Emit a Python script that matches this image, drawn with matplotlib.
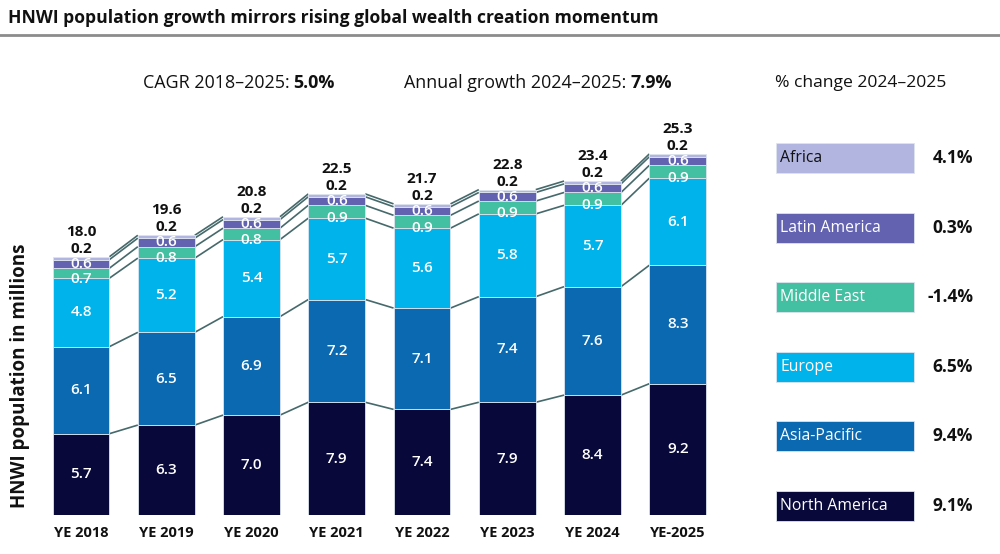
import matplotlib
matplotlib.use('Agg')
import matplotlib.pyplot as plt
from matplotlib.patches import Rectangle

plt.rcParams['font.family'] = ['Open Sans', 'DejaVu Sans']

# ---- data ----
years = ['YE 2018', 'YE 2019', 'YE 2020', 'YE 2021', 'YE 2022', 'YE 2023', 'YE 2024', 'YE-2025']
regions = ['North America', 'Asia-Pacific', 'Europe', 'Middle East', 'Latin America', 'Africa']
north_america = [5.7, 6.3, 7.0, 7.9, 7.4, 7.9, 8.4, 9.2]
asia_pacific = [6.1, 6.5, 6.9, 7.2, 7.1, 7.4, 7.6, 8.3]
europe = [4.8, 5.2, 5.4, 5.7, 5.6, 5.8, 5.7, 6.1]
middle_east = [0.7, 0.8, 0.8, 0.9, 0.9, 0.9, 0.9, 0.9]
latin_america = [0.6, 0.6, 0.6, 0.6, 0.6, 0.6, 0.6, 0.6]
africa = [0.2, 0.2, 0.2, 0.2, 0.2, 0.2, 0.2, 0.2]
totals = [18.0, 19.6, 20.8, 22.5, 21.7, 22.8, 23.4, 25.3]
pct_change = ['9.1%', '9.4%', '6.5%', '-1.4%', '0.3%', '4.1%']
cagr_text = ('CAGR 2018\u20132025:', '5.0%')
annual_text = ('Annual growth 2024\u20132025:', '7.9%')
change_header = '% change 2024\u20132025'
title = 'HNWI population growth mirrors rising global wealth creation momentum'
ylabel = 'HNWI population in millions'

series = [north_america, asia_pacific, europe, middle_east, latin_america, africa]
colors = ['#08083a', '#0a69b0', '#00b3eb', '#43bfa1', '#6262b0', '#b1b5e0']
legend_text_colors = ['white', 'white', 'white', 'white', 'white', '#111111']

fig = plt.figure(figsize=(10, 5.54), dpi=100)
ax = fig.add_axes([0.0384, 0.0704, 0.682, 0.6955])
ax.set_xlim(-0.5, 7.5)
ax.set_ylim(0, 27)
for s in ax.spines.values():
    s.set_visible(False)
ax.set_yticks([])
ax.set_xticks(range(len(years)))
ax.set_xticklabels(years, fontsize=10.5, fontweight='bold', color='#111111')
ax.tick_params(axis='x', length=0, pad=8)
ax.patch.set_alpha(0)

w = 0.668
n = len(years)
bottoms = [0.0] * n
levels = []
for k, (vals, c) in enumerate(zip(series, colors)):
    ax.bar(range(n), vals, width=w, bottom=bottoms, color=c,
           edgecolor='#dde3ee', linewidth=0.6, zorder=3)
    tops = [b + v for b, v in zip(bottoms, vals)]
    for i in range(n):
        if k == 5:
            ax.annotate(f'{vals[i]:.1f}', (i, tops[i]), xytext=(0, 8),
                        textcoords='offset pixels', ha='center', va='center',
                        fontsize=11, fontweight='bold', color='#111111', zorder=5)
        else:
            off = -6 if k == 3 else 0
            ax.annotate(f'{vals[i]:.1f}', (i, bottoms[i] + vals[i] / 2), xytext=(0, off),
                        textcoords='offset pixels', ha='center', va='center',
                        fontsize=11, fontweight='semibold', color='white', zorder=5)
    levels.append(tops)
    bottoms = tops

for tops in levels:
    for i in range(n - 1):
        ax.plot([i + w / 2, i + 1 - w / 2], [tops[i], tops[i + 1]],
                color='#46696b', lw=1.2, zorder=1, solid_capstyle='butt')

for i in range(n):
    ax.annotate(f'{totals[i]:.1f}', (i, levels[-1][i]), xytext=(0, 25),
                textcoords='offset pixels', ha='center', va='center',
                fontsize=11, fontweight='bold', color='#111111', zorder=5)

# ---- overlay in pixel coordinates ----
ov = fig.add_axes([0, 0, 1, 1])
ov.set_xlim(0, 1000)
ov.set_ylim(554, 0)
ov.axis('off')
ov.patch.set_alpha(0)

ov.text(8, 18, title, fontsize=12.6, fontweight='bold', color='#111111', va='center', ha='left')
ov.plot([0, 1000], [35, 35], color='#8c8c8c', lw=2)

renderer = fig.canvas.get_renderer()

def mixed(x, y, normal, bold, size=12.9):
    t = ov.text(x, y, normal, fontsize=size, color='#111111', va='center', ha='left')
    bb = t.get_window_extent(renderer)
    ov.text(bb.x1 + 4, y, bold, fontsize=size, fontweight='bold', color='#111111',
            va='center', ha='left')

mixed(143, 83, *cagr_text)
mixed(404, 83, *annual_text)
ov.text(775, 83, change_header, fontsize=12.6, color='#111111', va='center', ha='left')

ov.text(20, 376, ylabel, rotation=90, fontsize=13.5, fontweight='bold', color='#111111',
        ha='center', va='center')

order = list(range(len(regions)))[::-1]
for j, k in enumerate(order):
    yc = 158 + 69.6 * j
    ov.add_patch(Rectangle((776, yc - 15), 138, 30, facecolor=colors[k],
                           edgecolor='#dde3ee', lw=0.6))
    ov.text(780, yc, regions[k], fontsize=11.3, color=legend_text_colors[k],
            va='center', ha='left')
    ov.text(973, yc, pct_change[k], fontsize=12.5, fontweight='bold', color='#111111',
            va='center', ha='right')

fig.savefig('out.png', dpi=100)
